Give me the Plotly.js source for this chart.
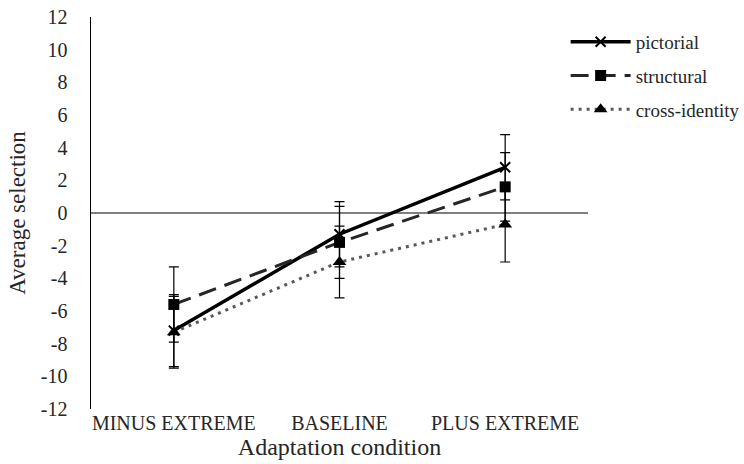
<!DOCTYPE html>
<html>
<head>
<meta charset="utf-8">
<script src="https://cdn.plot.ly/plotly-3.0.1.min.js"></script>
<style>html,body{margin:0;padding:0;background:#fff;}#chart{width:744px;height:464px;}</style>
</head>
<body>
<div id="chart"></div>
<script>
const categories = ["MINUS EXTREME", "BASELINE", "PLUS EXTREME"];
const pictorial = [-7.2, -1.3, 2.8];
const pictorialErr = [2.2, 2.0, 2.0];
const structural = [-5.6, -1.8, 1.6];
const structuralErr = [2.3, 2.2, 2.1];
const crossIdentity = [-7.3, -3.0, -0.7];
const crossIdentityErr = [2.2, 2.2, 2.3];
const yTicks = [-12, -10, -8, -6, -4, -2, 0, 2, 4, 6, 8, 10, 12];

const font = "'Liberation Serif', 'Times New Roman', serif";
function errY(arr) {
  return {type: 'data', array: arr, visible: true, color: '#000', thickness: 1.2, width: 5};
}
const traces = [
  {
    x: categories, y: pictorial, name: 'pictorial', type: 'scatter', mode: 'lines+markers',
    legendgroup: 'a',
    line: {color: '#000', width: 3.5},
    marker: {symbol: 'x-thin', size: 10, color: '#000', line: {color: '#000', width: 2}},
    error_y: errY(pictorialErr)
  },
  {
    x: categories, y: structural, name: 'structural', type: 'scatter', mode: 'lines+markers',
    legendgroup: 'b',
    line: {color: '#262626', width: 3, dash: '18px,9px'},
    marker: {symbol: 'square', size: 11, color: '#000'},
    error_y: errY(structuralErr)
  },
  {
    x: categories, y: crossIdentity, name: 'cross-identity', type: 'scatter', mode: 'lines+markers',
    legendgroup: 'c',
    line: {color: '#595959', width: 3, dash: '3px,5px'},
    marker: {symbol: 'triangle-up', size: 12, color: '#000'},
    error_y: errY(crossIdentityErr)
  }
];
const layout = {
  width: 744, height: 464,
  margin: {l: 91, r: 156, t: 17, b: 55, autoexpand: false},
  paper_bgcolor: '#fff', plot_bgcolor: '#fff',
  font: {family: font, size: 20, color: '#262626'},
  showlegend: true,
  legend: {
    x: 0.955, y: 0.985, xanchor: 'left', yanchor: 'top',
    font: {family: font, size: 19, color: '#262626'},
    itemwidth: 60, tracegroupgap: 6, bgcolor: 'rgba(0,0,0,0)'
  },
  xaxis: {
    type: 'category', range: [-0.5, 2.5],
    showgrid: false, showline: false, zeroline: false, ticks: '',
    tickfont: {family: font, size: 20, color: '#262626'},
    title: {text: 'Adaptation condition', font: {family: font, size: 24, color: '#262626'}, standoff: 4},
    automargin: false
  },
  yaxis: {
    range: [-12, 12], tickvals: yTicks, ticktext: yTicks.map(String),
    showgrid: false, showline: true, linecolor: '#000', linewidth: 1.5,
    zeroline: true, zerolinecolor: '#7f7f7f', zerolinewidth: 1.2,
    ticks: '', ticklabelstandoff: 18,
    tickfont: {family: font, size: 20, color: '#262626'},
    title: {text: 'Average selection', font: {family: font, size: 23, color: '#262626'}, standoff: 9},
    automargin: false
  }
};
Plotly.newPlot('chart', traces, layout, {displayModeBar: false, staticPlot: true});
</script>
</body>
</html>
